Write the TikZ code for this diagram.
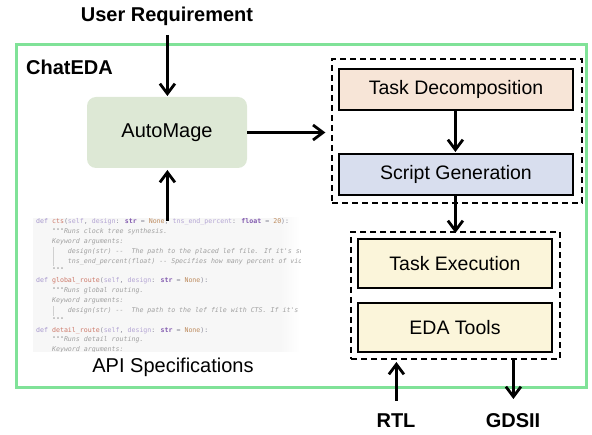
\documentclass[tikz,border=0pt]{standalone}
\usepackage{fontspec}
\setmainfont{Liberation Sans}
\newfontfamily\codefont{DejaVu Sans Mono}
\usetikzlibrary{arrows.meta}

\definecolor{framegreen}{RGB}{128,226,152}
\definecolor{autofill}{RGB}{221,232,213}
\definecolor{decofill}{RGB}{247,229,215}
\definecolor{genfill}{RGB}{216,222,238}
\definecolor{execfill}{RGB}{251,245,218}
\definecolor{codebg}{RGB}{247,247,247}
% code colours
\definecolor{ckw}{RGB}{165,150,205}
\definecolor{cfn}{RGB}{205,120,105}
\definecolor{cpa}{RGB}{180,165,212}
\definecolor{cty}{RGB}{130,90,175}
\definecolor{cno}{RGB}{190,140,95}
\definecolor{ccm}{RGB}{160,160,160}
\definecolor{cpu}{RGB}{140,140,155}

\newcommand\ckw[1]{\textcolor{ckw}{#1}}
\newcommand\cfn[1]{\textcolor{cfn}{#1}}
\newcommand\cpa[1]{\textcolor{cpa}{#1}}
\newcommand\cty[1]{\textcolor{cty}{\bfseries #1}}
\newcommand\cno[1]{\textcolor{cno}{#1}}
\newcommand\ccm[1]{\textcolor{ccm}{\itshape #1}}
\newcommand\cpu[1]{\textcolor{cpu}{#1}}
\newcommand\cind[1]{\phantom{#1}}

\tikzset{
  arr/.style={line width=2.8pt, -{Straight Barb[length=10pt,width=15pt,line width=2.8pt]}},
  stepbox/.style={draw=black, line width=1.4pt, minimum width=234pt, minimum height=41pt,
                  font=\fontsize{19.5}{22}\selectfont, inner sep=0pt},
  execbox/.style={stepbox, fill=execfill, minimum width=194pt, minimum height=49pt},
  group/.style={draw=black, line width=1.3pt, dash pattern=on 6pt off 4pt, inner sep=0pt},
  title/.style={font=\fontsize{20}{24}\selectfont\bfseries, inner sep=0pt},
  plain/.style={font=\fontsize{20}{24}\selectfont},
}

\begin{document}
\begin{tikzpicture}[x=1pt, y=-1pt]
\useasboundingbox (0,0) rectangle (592,435);

% outer ChatEDA frame
\draw[framegreen, line width=3pt] (16.5,45) rectangle (586.5,388);
\node[title, anchor=west] (chateda) at (26,67.5) {ChatEDA};

% input label
\node[title] (user) at (167,16) {User Requirement};

% AutoMage
\node[fill=autofill, rounded corners=9pt, minimum width=160pt, minimum height=71pt,
      inner sep=0pt, plain] (auto) at (167,132.5) {AutoMage};

% API specification snippet
\node[minimum width=267pt, minimum height=134pt, inner sep=0pt, fill=codebg] (api) at (166.5,285) {};
\shade[left color=codebg, right color=white] (280,218) rectangle (300,352);
\begin{scope}
\clip (api.north west) rectangle (300,352);
\node[anchor=north west, inner sep=0pt, align=left,
      font=\codefont\fontsize{6.6}{9.85}\selectfont] (code) at (36,218.5) {%
\ckw{def} \cfn{cts}\cpu{(}\cpa{self}\cpu{,} \cpa{design}\cpu{:} \cty{str} \cpu{=} \cno{None}\cpu{,} \cpa{tns\_end\_percent}\cpu{:} \cty{float} \cpu{=} \cno{20}\cpu{):}\\
\cind{0000}\ccm{"""Runs clock tree synthesis.}\\
\cind{0000}\ccm{Keyword arguments:}\\
\cind{00000000}\ccm{design(str) --\ \ The path to the placed lef file. If it's se}\\
\cind{00000000}\ccm{tns\_end\_percent(float) -- Specifies how many percent of vio}\\
\cind{0000}\ccm{"""}\\
\ckw{def} \cfn{global\_route}\cpu{(}\cpa{self}\cpu{,} \cpa{design}\cpu{:} \cty{str} \cpu{=} \cno{None}\cpu{):}\\
\cind{0000}\ccm{"""Runs global routing.}\\
\cind{0000}\ccm{Keyword arguments:}\\
\cind{00000000}\ccm{design(str) --\ \ The path to the lef file with CTS. If it's}\\
\cind{0000}\ccm{"""}\\
\ckw{def} \cfn{detail\_route}\cpu{(}\cpa{self}\cpu{,} \cpa{design}\cpu{:} \cty{str} \cpu{=} \cno{None}\cpu{):}\\
\cind{0000}\ccm{"""Runs detail routing.}\\
\cind{0000}\ccm{Keyword arguments:}};
\draw[ccm!50, line width=0.5pt] (53,247) -- (53,266);
\draw[ccm!50, line width=0.5pt] (53,306) -- (53,316);
\end{scope}
\node[plain] (apilabel) at (173,367) {API Specifications};

% planning group
\node[group, minimum width=250pt, minimum height=144pt] (plan) at (457,131) {};
\node[stepbox, fill=decofill] (deco) at (456,89.5) {Task Decomposition};
\node[stepbox, fill=genfill] (gen) at (456,174.5) {Script Generation};

% execution group
\node[group, minimum width=209pt, minimum height=127pt] (run) at (455.5,295.5) {};
\node[execbox] (exec) at (455,263.5) {Task Execution};
\node[execbox] (tools) at (455,327.5) {EDA Tools};

% I/O labels
\node[title] (rtl) at (396,421) {RTL};
\node[title] (gds) at (513,421) {GDSII};

% connector end points
\coordinate (userout) at (167.4,35);
\coordinate (autoin) at (167.4,96);
\coordinate (apiout) at (167.4,221);
\coordinate (autoup) at (167.4,170);
\coordinate (decoout) at (455.4,110);
\coordinate (genin) at (455.4,152);
\coordinate (genout) at (455.4,195);
\coordinate (runin) at (455.4,233);
\coordinate (rtlin) at (396.4,401);
\coordinate (runup) at (396.4,362);
\coordinate (runout) at (513.4,359);
\coordinate (gdsout) at (513.4,399);

% connectors
\draw[arr] (userout) -- (autoin);
\draw[arr] (apiout) -- (autoup);
\draw[arr, shorten >=6pt] (auto.east) -- (plan.west |- auto.east);
\draw[arr] (decoout) -- (genin);
\draw[arr] (genout) -- (runin);
\draw[arr] (rtlin) -- (runup);
\draw[arr] (runout) -- (gdsout);
\end{tikzpicture}
\end{document}
